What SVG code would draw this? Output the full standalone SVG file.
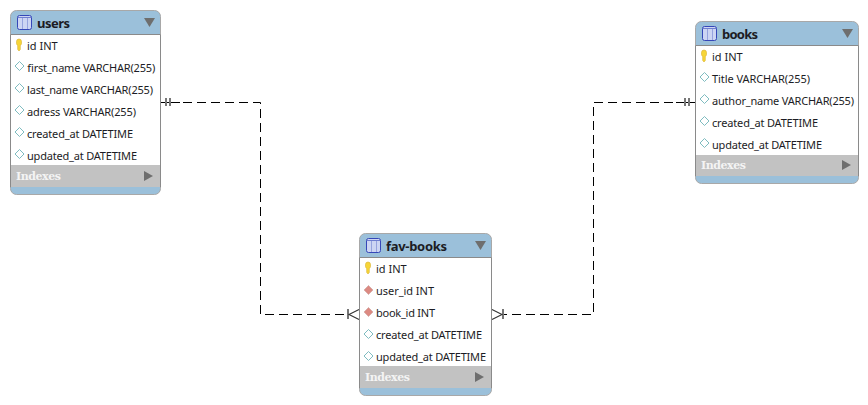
<svg xmlns="http://www.w3.org/2000/svg" width="868" height="405" viewBox="0 0 868 405">
<style>
text{font-family:"Noto Sans","Open Sans","DejaVu Sans",sans-serif;fill:#1c1c24}
.t{font-size:13px;font-weight:700}
.r{font-size:11px}
.ix{font-size:11px;font-weight:700;fill:#f4f4f4;font-family:"DejaVu Serif",serif}
.body{fill:#fff;stroke:none}
.edge{fill:none;stroke:#8a8a8a;stroke-width:1}
.c{fill:none;stroke:#000;stroke-width:1}
.d{stroke-dasharray:9 5}
.b{fill:none;stroke:#777;stroke-width:2}
.f{fill:none;stroke:#333;stroke-width:1.100}
</style>
<defs>
<g id="tb"><rect x="0.5" y="0.5" width="14" height="14" rx="2" fill="#cdd5f3" stroke="#3547b8"/><path d="M5.500 2V14M10.500 2V14" stroke="#96a3de" fill="none"/><path d="M1 2.500H14" stroke="#6f7ed0" fill="none"/></g>
<g id="key"><path d="M-2.500 -3.500a2.500 2.500 0 0 1 5 0v2a2.500 2.500 0 0 1-1.200 2V4.500L0 6L-1.300 4.500V0.500a2.500 2.500 0 0 1-1.200-2z" fill="#f6d537" stroke="#d8b030" stroke-width=".6"/></g>
<path id="dw" d="M0 -4.500L4.500 0L0 4.500L-4.500 0Z" fill="#fff" stroke="#7fbcc0"/>
<path id="df" d="M0 -4.500L4.500 0L0 4.500L-4.500 0Z" fill="#dc8a82" stroke="#d9b0ac"/>
<path id="tri" d="M0 0H11L5.500 9Z" fill="#6e6e6e"/>
<path id="tr" d="M0 0L9 5L0 10Z" fill="#6e6e6e"/>
</defs>
<rect width="868" height="405" fill="#fff"/>
<g id="connectors">
<path class="c" d="M161 102.500H180"/>
<path class="c d" d="M183 102.500H260.500V314.500H346"/>
<path class="b" d="M166 98V106M170 98V106"/>
<path class="b" d="M348 309V319"/>
<path class="f" d="M359 309.500L349 314.500L359 319.500"/>
<path class="c d" d="M673 102.500H593.500V314.500H504"/>
<path class="c" d="M695 102.500H676"/>
<path class="b" d="M685 98V106M689 98V106"/>
<path class="b" d="M503 309V319"/>
<path class="f" d="M492 309.500L502 314.500L492 319.500"/>
</g>
<g id="users">
<path d="M16.500 10.500H154.500a6 6 0 0 1 6 6V188.500a6 6 0 0 1-6 6H16.500a6 6 0 0 1-6-6V16.500a6 6 0 0 1 6-6Z" fill="#9bc0da" stroke="#a8a8a8"/>
<rect class="body" x="11" y="35" width="149" height="130"/>
<rect x="11" y="165" width="149" height="22" fill="#c2c2c2"/>
<path class="edge" d="M10.500 34.500H160.500M10.500 35V187M160.500 35V187"/>
<use href="#tb" x="17" y="15"/><text class="t" x="37" y="28" textLength="33">users</text><use href="#tri" x="144" y="18"/>
<use href="#key" x="19" y="45"/><text class="r" x="27" y="50">id INT</text>
<use href="#dw" x="19.500" y="66"/><text class="r" x="27" y="72" textLength="128">first_name VARCHAR(255)</text>
<use href="#dw" x="19.500" y="88"/><text class="r" x="27" y="94" textLength="126">last_name VARCHAR(255)</text>
<use href="#dw" x="19.500" y="110"/><text class="r" x="27" y="116" textLength="109">adress VARCHAR(255)</text>
<use href="#dw" x="19.500" y="132"/><text class="r" x="27" y="138" textLength="106">created_at DATETIME</text>
<use href="#dw" x="19.500" y="154"/><text class="r" x="27" y="160" textLength="110">updated_at DATETIME</text>
<text class="ix" x="16" y="180" textLength="45">Indexes</text><use href="#tr" x="144" y="171"/>
</g>
<g id="books">
<path d="M701.500 21.500H852.500a6 6 0 0 1 6 6V177.500a6 6 0 0 1-6 6H701.500a6 6 0 0 1-6-6V27.500a6 6 0 0 1 6-6Z" fill="#9bc0da" stroke="#a8a8a8"/>
<rect class="body" x="696" y="46" width="162" height="109"/>
<rect x="696" y="155" width="162" height="21" fill="#c2c2c2"/>
<path class="edge" d="M695.500 45.500H858.500M695.500 46V176M858.500 46V176"/>
<use href="#tb" x="702" y="26"/><text class="t" x="722" y="39" textLength="36">books</text><use href="#tri" x="842" y="29"/>
<use href="#key" x="704" y="56"/><text class="r" x="712" y="61">id INT</text>
<use href="#dw" x="704.500" y="77"/><text class="r" x="712" y="83" textLength="98">Title VARCHAR(255)</text>
<use href="#dw" x="704.500" y="99"/><text class="r" x="712" y="105" textLength="142">author_name VARCHAR(255)</text>
<use href="#dw" x="704.500" y="121"/><text class="r" x="712" y="127" textLength="106">created_at DATETIME</text>
<use href="#dw" x="704.500" y="143"/><text class="r" x="712" y="149" textLength="110">updated_at DATETIME</text>
<text class="ix" x="701" y="169" textLength="45">Indexes</text><use href="#tr" x="842" y="160"/>
</g>
<g id="fav-books">
<path d="M365.500 233.500H485.500a6 6 0 0 1 6 6V389.500a6 6 0 0 1-6 6H365.500a6 6 0 0 1-6-6V239.500a6 6 0 0 1 6-6Z" fill="#9bc0da" stroke="#a8a8a8"/>
<rect class="body" x="360" y="258" width="131" height="108"/>
<rect x="360" y="366" width="131" height="22" fill="#c2c2c2"/>
<path class="edge" d="M359.500 257.500H491.500M359.500 258V388M491.500 258V388"/>
<use href="#tb" x="366" y="238"/><text class="t" x="386" y="251" textLength="61">fav-books</text><use href="#tri" x="475" y="241"/>
<use href="#key" x="368" y="268"/><text class="r" x="376" y="273">id INT</text>
<use href="#df" x="368.500" y="290"/><text class="r" x="376" y="295" textLength="58">user_id INT</text>
<use href="#df" x="368.500" y="312"/><text class="r" x="376" y="317" textLength="59">book_id INT</text>
<use href="#dw" x="368.500" y="334"/><text class="r" x="376" y="339" textLength="106">created_at DATETIME</text>
<use href="#dw" x="368.500" y="356"/><text class="r" x="376" y="361" textLength="110">updated_at DATETIME</text>
<text class="ix" x="365" y="381" textLength="45">Indexes</text><use href="#tr" x="475" y="372"/>
</g>
</svg>
